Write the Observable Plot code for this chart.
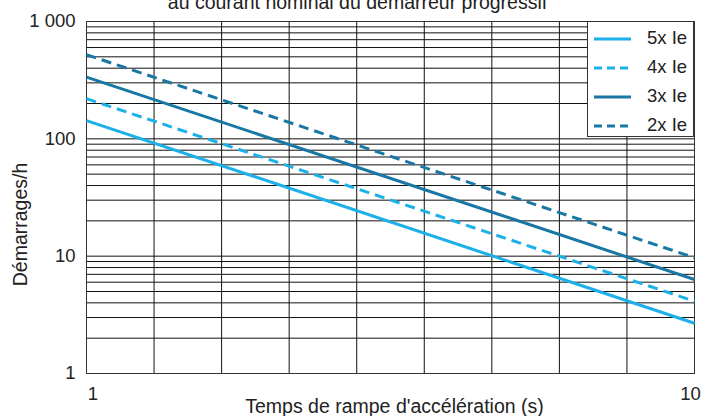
<!DOCTYPE html>
<html>
<head>
<meta charset="utf-8">
<script src="https://cdn.jsdelivr.net/npm/d3@7"></script>
<script src="https://cdn.jsdelivr.net/npm/@observablehq/plot@0.6"></script>
<style>
  body { margin: 0; background: #fff; font-family: "Liberation Sans", Arial, sans-serif; }
  #wrap { position: relative; width: 702px; height: 416px; overflow: hidden; background: #fff; }
  #legend { position: absolute; left: 587px; top: 21px; width: 107px; height: 116px; box-sizing: border-box;
            border: 1px solid #333; background: #fff; }
  .row { position: absolute; left: 0; width: 105px; height: 26px; }
  .row svg { position: absolute; left: 6px; top: 11px; }
  .row span { position: absolute; left: 59px; top: 1px; font-size: 18.5px; color: #222; line-height: 22px; }
</style>
</head>
<body>
<div id="wrap"></div>
<script>
// ---- data ----
const series = ["5x Ie", "4x Ie", "3x Ie", "2x Ie"];
const rampTimes = [1, 10];
const startsPerHourAt1s = [143, 220, 336, 521];
const startsPerHourAt10s = [2.68, 4.13, 6.33, 9.7];
const seriesColors = ["#1cb0e8", "#1cb0e8", "#1877a3", "#1877a3"];
const seriesDash = [null, "10,6", null, "10,6"];
const yTickValues = [1, 10, 100, 1000];
const yTickLabels = ["1", "10", "100", "1 000"];
const xTickValues = [1, 10];
const xTickLabels = ["1", "10"];
const xGridValues = [1, 2, 3, 4, 5, 6, 7, 8, 9, 10];
const yGridValues = [1, 10, 100].flatMap(d => [1, 2, 3, 4, 5, 6, 7, 8, 9].map(k => k * d)).concat([1000]);
const titleText = "au courant nominal du démarreur progressif";
const xLabel = "Temps de rampe d'accélération (s)";
const yLabel = "Démarrages/h";

const rows = series.flatMap((s, i) => rampTimes.map((t, j) => ({
  series: s, t, v: j === 0 ? startsPerHourAt1s[i] : startsPerHourAt10s[i]
})));

const lineMarks = series.map((s, i) => Plot.line(rows.filter(r => r.series === s), {
  x: "t", y: "v", stroke: seriesColors[i], strokeWidth: 3,
  strokeDasharray: seriesDash[i] || undefined, strokeLinecap: "butt"
}));

const chart = Plot.plot({
  width: 702,
  height: 416,
  marginLeft: 86,
  marginRight: 8,
  marginTop: 21,
  marginBottom: 43,
  style: { fontFamily: "'Liberation Sans', Arial, sans-serif", fontSize: "18.5px", color: "#222", background: "#fff", overflow: "hidden" },
  x: { type: "linear", domain: [1, 10] },
  y: { type: "log", domain: [1, 1000] },
  marks: [
    Plot.gridY(yGridValues, { stroke: "#111", strokeOpacity: 1, strokeWidth: 1 }),
    Plot.gridX(xGridValues, { stroke: "#111", strokeOpacity: 1, strokeWidth: 1 }),
    Plot.frame({ stroke: "#333", strokeWidth: 1 }),
    ...lineMarks,
    Plot.axisY({ ticks: yTickValues, tickFormat: d => yTickLabels[yTickValues.indexOf(d)], tickSize: 0, tickPadding: 11, label: null, fontSize: 18.5 }),
    Plot.axisX({ ticks: [xTickValues[0]], tickFormat: d => xTickLabels[0], tickSize: 0, tickPadding: 13, dx: 6.5, label: null, fontSize: 18.5 }),
    Plot.axisX({ ticks: [xTickValues[1]], tickFormat: d => xTickLabels[1], tickSize: 0, tickPadding: 13, dx: -4, label: null, fontSize: 18.5 }),
    Plot.text([titleText], { text: d => d, frameAnchor: "top", textAnchor: "middle", lineAnchor: "middle", dx: -33, dy: -19, fontSize: 19.5, fill: "#222" }),
    Plot.text([xLabel], { text: d => d, frameAnchor: "bottom", textAnchor: "middle", lineAnchor: "middle", dx: 4, dy: 33, fontSize: 19.5, fill: "#222" }),
    Plot.text([yLabel], { text: d => d, frameAnchor: "middle", textAnchor: "middle", lineAnchor: "middle", rotate: -90, dx: -370, dy: 27, fontSize: 19.5, fill: "#222" })
  ]
});
const wrap = document.getElementById("wrap");
wrap.appendChild(chart);

// legend
const legend = document.createElement("div");
legend.id = "legend";
series.forEach((s, i) => {
  const row = document.createElement("div");
  row.className = "row";
  row.style.top = (4 + i * 29) + "px";
  const dash = seriesDash[i] ? 'stroke-dasharray="8,5"' : "";
  row.innerHTML = `<svg width="37" height="4"><line x1="0" y1="2" x2="37" y2="2" stroke="${seriesColors[i]}" stroke-width="3" ${dash}/></svg><span>${s}</span>`;
  legend.appendChild(row);
});
wrap.appendChild(legend);
</script>
</body>
</html>
